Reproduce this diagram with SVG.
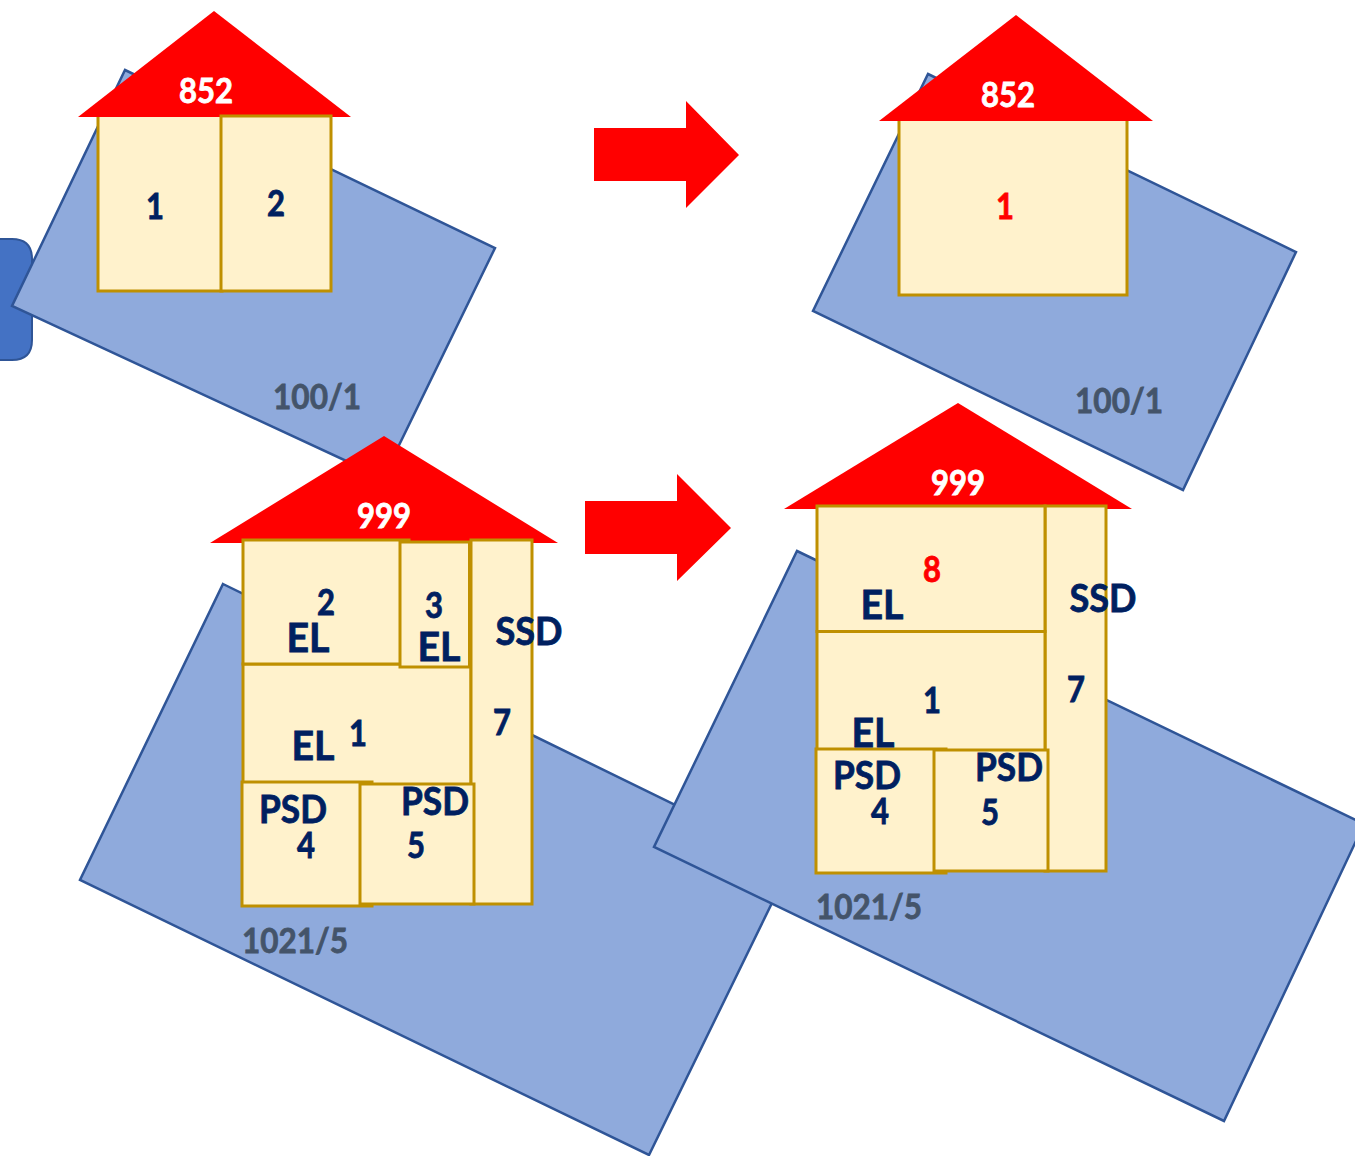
<svg xmlns="http://www.w3.org/2000/svg" width="1355" height="1156" viewBox="0 0 1355 1156">
<style>
.p{fill:#8faadc;stroke:#2f5597;stroke-width:2.5}
.r{fill:#fff2cc;stroke:#bf9000;stroke-width:3}
.t{fill:#ff0000}
text{font-family:Lato,"Open Sans","Liberation Sans",sans-serif;font-weight:700;text-anchor:middle;stroke-width:.8px}
.n{fill:#002060;stroke:#002060;font-size:36px}
.e{fill:#002060;stroke:#002060;font-size:41px}
.s{fill:#002060;stroke:#002060;font-size:38px}
.w{fill:#fff;stroke:#fff;font-size:35px}
.g{fill:#44546a;stroke:#44546a;font-size:35px}
.rd{fill:#ff0000;stroke:#ff0000;font-size:36px}
</style>
<g id="tab"><path d="M-10,239H12Q32,239 32,259V340Q32,360 12,360H-10Z" fill="#4472c4" stroke="#2f5597" stroke-width="2"/></g>
<g id="parcel-a"><polygon class="p" points="125,70 495,248 383,478 12,306"/><text class="g" x="317" y="409" textLength="88" lengthAdjust="spacingAndGlyphs">100/1</text></g>
<g id="parcel-b"><polygon class="p" points="928,74 1296,252 1183,490 813,311"/><text class="g" x="1119" y="413" textLength="88" lengthAdjust="spacingAndGlyphs">100/1</text></g>
<g id="parcel-c"><polygon class="p" points="223,584 792,862 649,1155 80,880"/><text class="g" x="295" y="953" textLength="106" lengthAdjust="spacingAndGlyphs">1021/5</text></g>
<g id="parcel-d"><polygon class="p" points="797,551 1364,824 1224,1121 654,847"/><text class="g" x="869" y="919" textLength="106" lengthAdjust="spacingAndGlyphs">1021/5</text></g>
<g id="house-a">
<rect class="r" x="98" y="112" width="124" height="179"/>
<polygon class="t" points="214,11 351,117 78,117"/>
<rect class="r" x="221" y="116" width="110" height="175"/>
<text class="w" x="206" y="103" textLength="54" lengthAdjust="spacingAndGlyphs">852</text><text class="n" x="155" y="219" textLength="18" lengthAdjust="spacingAndGlyphs">1</text><text class="n" x="276" y="216" textLength="18" lengthAdjust="spacingAndGlyphs">2</text>
</g>
<g id="house-b">
<rect class="r" x="899" y="116" width="228" height="179"/>
<polygon class="t" points="1016,15 1153,121 879,121"/>
<text class="w" x="1008" y="107" textLength="54" lengthAdjust="spacingAndGlyphs">852</text><text class="rd" x="1005" y="219" textLength="18" lengthAdjust="spacingAndGlyphs">1</text>
</g>
<g id="house-c">
<polygon class="t" points="384,436 558,543 210,543"/>
<rect class="r" x="243" y="664" width="228" height="122"/>
<rect class="r" x="243" y="540" width="166" height="124"/>
<rect class="r" x="471" y="540" width="61" height="364"/>
<rect class="r" x="400" y="542" width="69.500" height="125"/>
<rect class="r" x="242" y="782" width="130" height="124"/>
<rect class="r" x="360" y="784" width="114" height="120"/>
<text class="w" x="384" y="528" textLength="54" lengthAdjust="spacingAndGlyphs">999</text>
<text class="n" x="326" y="615" textLength="18" lengthAdjust="spacingAndGlyphs">2</text><text class="e" x="308" y="652" textLength="43" lengthAdjust="spacingAndGlyphs">EL</text>
<text class="n" x="434" y="618" textLength="18" lengthAdjust="spacingAndGlyphs">3</text><text class="e" x="439" y="661" textLength="43" lengthAdjust="spacingAndGlyphs">EL</text>
<text class="s" x="529" y="645" textLength="67" lengthAdjust="spacingAndGlyphs">SSD</text><text class="n" x="502" y="735" textLength="18" lengthAdjust="spacingAndGlyphs">7</text>
<text class="e" x="313" y="760" textLength="43" lengthAdjust="spacingAndGlyphs">EL</text><text class="n" x="358" y="746" textLength="18" lengthAdjust="spacingAndGlyphs">1</text>
<text class="s" x="293" y="823" textLength="68" lengthAdjust="spacingAndGlyphs">PSD</text><text class="n" x="306" y="858" textLength="18" lengthAdjust="spacingAndGlyphs">4</text>
<text class="s" x="435" y="815" textLength="68" lengthAdjust="spacingAndGlyphs">PSD</text><text class="n" x="416" y="858" textLength="18" lengthAdjust="spacingAndGlyphs">5</text>
</g>
<g id="house-d">
<polygon class="t" points="958,403 1132,509 784,509"/>
<rect class="r" x="1045" y="506" width="61" height="365"/>
<rect class="r" x="817" y="506" width="228" height="125.500"/>
<rect class="r" x="817" y="631.500" width="228" height="122"/>
<rect class="r" x="816" y="749" width="130" height="124"/>
<rect class="r" x="934" y="750" width="114" height="121"/>
<text class="w" x="958" y="495" textLength="54" lengthAdjust="spacingAndGlyphs">999</text>
<text class="rd" x="932" y="582" textLength="18" lengthAdjust="spacingAndGlyphs">8</text><text class="e" x="882" y="619" textLength="43" lengthAdjust="spacingAndGlyphs">EL</text>
<text class="s" x="1103" y="612" textLength="67" lengthAdjust="spacingAndGlyphs">SSD</text><text class="n" x="1076" y="702" textLength="18" lengthAdjust="spacingAndGlyphs">7</text>
<text class="n" x="932" y="713" textLength="18" lengthAdjust="spacingAndGlyphs">1</text><text class="e" x="873" y="747" textLength="43" lengthAdjust="spacingAndGlyphs">EL</text>
<text class="s" x="867" y="789" textLength="68" lengthAdjust="spacingAndGlyphs">PSD</text><text class="n" x="880" y="824" textLength="18" lengthAdjust="spacingAndGlyphs">4</text>
<text class="s" x="1009" y="781" textLength="68" lengthAdjust="spacingAndGlyphs">PSD</text><text class="n" x="990" y="825" textLength="18" lengthAdjust="spacingAndGlyphs">5</text>
</g>
<g id="connectors">
<polygon class="t" points="594,128 686,128 686,101 739,155 686,208 686,181 594,181"/>
<polygon class="t" points="585,501 677,501 677,474 731,528 677,581 677,554 585,554"/>
</g>
</svg>
